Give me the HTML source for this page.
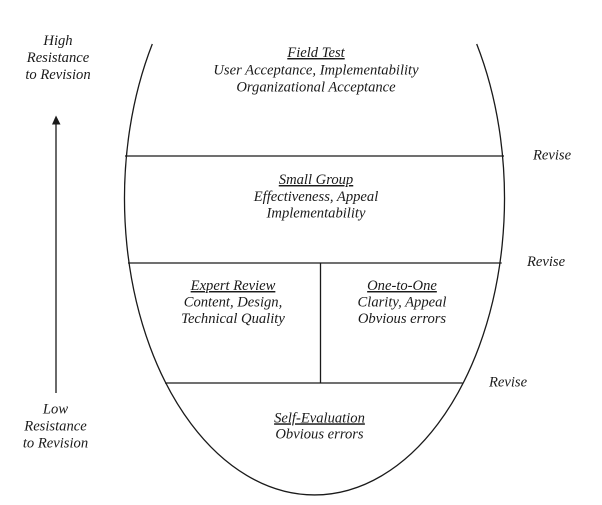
<!DOCTYPE html>
<html>
<head>
<meta charset="utf-8">
<style>
  html, body { margin: 0; padding: 0; background: #ffffff; }
  body { width: 602px; height: 505px; overflow: hidden; }
  svg { display: block; }
  text { font-family: "Liberation Serif", "Times New Roman", serif; font-style: italic; font-size: 14.6px; fill: #1a1a1a; }
  .u { text-decoration: underline; }
</style>
</head>
<body>
<svg width="602" height="505" viewBox="0 0 602 505" xmlns="http://www.w3.org/2000/svg">
  <!-- ellipse outline (open at top) -->
  <path d="M 152.3 44 A 190 296.5 0 1 0 476.7 44" fill="none" stroke="#1a1a1a" stroke-width="1.3"/>
  <!-- horizontal dividers -->
  <line x1="125" y1="156" x2="504" y2="156" stroke="#1a1a1a" stroke-width="1.3"/>
  <line x1="128" y1="263" x2="501.7" y2="263" stroke="#1a1a1a" stroke-width="1.3"/>
  <line x1="165" y1="383" x2="462.5" y2="383" stroke="#1a1a1a" stroke-width="1.3"/>
  <!-- vertical divider -->
  <line x1="320.5" y1="263" x2="320.5" y2="383" stroke="#1a1a1a" stroke-width="1.3"/>

  <!-- arrow -->
  <line x1="56" y1="393" x2="56" y2="122" stroke="#1a1a1a" stroke-width="1.3"/>
  <polygon points="56,115.5 52,124.5 60.5,124.5" fill="#1a1a1a"/>

  <!-- left labels -->
  <text x="58" y="45" text-anchor="middle">High</text>
  <text x="58" y="62" text-anchor="middle">Resistance</text>
  <text x="58" y="79" text-anchor="middle">to Revision</text>

  <text x="55.5" y="413.5" text-anchor="middle">Low</text>
  <text x="55.5" y="430.5" text-anchor="middle">Resistance</text>
  <text x="55.5" y="447.5" text-anchor="middle">to Revision</text>

  <!-- Field Test -->
  <text class="u" x="316" y="57" text-anchor="middle">Field Test</text>
  <text x="316" y="74.5" text-anchor="middle">User Acceptance, Implementability</text>
  <text x="316" y="91.5" text-anchor="middle">Organizational Acceptance</text>

  <!-- Small Group -->
  <text class="u" x="316" y="184" text-anchor="middle">Small Group</text>
  <text x="316" y="201" text-anchor="middle">Effectiveness, Appeal</text>
  <text x="316" y="217.5" text-anchor="middle">Implementability</text>

  <!-- Expert Review -->
  <text class="u" x="233" y="290" text-anchor="middle">Expert Review</text>
  <text x="233" y="306.5" text-anchor="middle">Content, Design,</text>
  <text x="233" y="323" text-anchor="middle">Technical Quality</text>

  <!-- One-to-One -->
  <text class="u" x="402" y="290" text-anchor="middle">One-to-One</text>
  <text x="402" y="306.5" text-anchor="middle">Clarity, Appeal</text>
  <text x="402" y="323" text-anchor="middle">Obvious errors</text>

  <!-- Self-Evaluation -->
  <text class="u" x="319.5" y="422.3" text-anchor="middle">Self-Evaluation</text>
  <text x="319.5" y="438.5" text-anchor="middle">Obvious errors</text>

  <!-- Revise labels -->
  <text x="533" y="159.5">Revise</text>
  <text x="527" y="266">Revise</text>
  <text x="489" y="386.5">Revise</text>
</svg>
</body>
</html>
